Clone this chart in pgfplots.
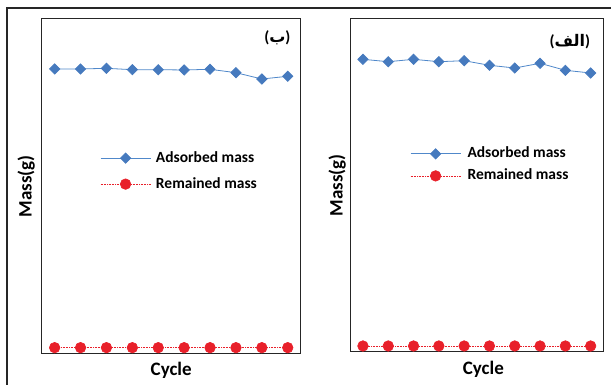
\documentclass[border=0pt]{standalone}
\usepackage{pgfplots}
\pgfplotsset{compat=1.18}
\usepackage{fontspec}
\setmainfont{Carlito}
\newfontfamily\arabicfont[Script=Arabic]{DejaVu Sans}
\TeXXeTstate=1
\definecolor{bl}{RGB}{70,122,190}
\definecolor{bll}{RGB}{80,136,202}
\definecolor{rd}{RGB}{232,32,42}
\pgfplotsset{
  panel/.style={
    scale only axis, xmin=0.5, xmax=10.5, ymin=0, ymax=100,
    xtick=\empty, ytick=\empty,
    axis line style={line width=1pt, black!85},
    clip=false, anchor=south west,
    label style={font=\fontsize{19}{22}\selectfont\bfseries, inner sep=0pt},
    legend cell align=left,
    legend style={draw=none, fill=none, font=\fontsize{15.5}{18}\selectfont\bfseries,
      inner sep=0pt, anchor=west, column sep=5pt, row sep=12pt,
      nodes={inner sep=0pt, text height=11pt, text depth=3pt}},
    legend image code/.code={\draw[mark repeat=2,mark phase=2,##1] plot coordinates {(0pt,0pt) (25pt,0pt) (50pt,0pt)};},
  },
  adsorbed/.style={color=bll, line width=0.8pt, mark=square*, mark size=3.6pt,
    mark options={rotate=45, fill=bl, draw=bl, solid}},
  remained/.style={color=rd, densely dotted, line width=0.6pt, mark=*, mark size=5.3pt,
    mark options={fill=rd, draw=rd, solid}},
}
\begin{document}
\begin{tikzpicture}
\path[use as bounding box] (0pt,0pt) rectangle (611pt,-385pt);
\draw[line width=1.1pt, black!85] (7pt,-385pt) -- (7pt,-8pt) -- (611pt,-8pt);

% left panel (b)
\begin{axis}[panel, at={(41.7pt,-353.7pt)}, width=259pt, height=335pt,
  xlabel={Cycle}, ylabel={Mass(g)},
  xlabel style={at={(axis description cs:0.5,-0.025)}, anchor=north},
  ylabel style={at={(axis description cs:-0.026,0.5)}, anchor=south},
  legend style={at={(rel axis cs:0.225,0.545)}}]
\addplot[adsorbed] coordinates {(1,84.99) (2,84.99) (3,85.19) (4,84.78) (5,84.78) (6,84.69) (7,84.9) (8,83.88) (9,82.0) (10,82.81)};
\addlegendentry{Adsorbed mass}
\addplot[remained] coordinates {(1,1.8) (2,1.8) (3,1.8) (4,1.8) (5,1.8) (6,1.8) (7,1.8) (8,1.8) (9,1.8) (10,1.8)};
\addlegendentry{Remained mass}
\node[font=\fontsize{16}{18}\selectfont\bfseries] at (rel axis cs:0.91,0.942) {{(}{\arabicfont\beginR ب\endR}{)}};
\end{axis}

% right panel (alef)
\begin{axis}[panel, at={(350.3pt,-351.3pt)}, width=253pt, height=332.3pt,
  xlabel={Cycle}, ylabel={Mass(g)},
  xlabel style={at={(axis description cs:0.526,-0.030)}, anchor=north},
  ylabel style={at={(axis description cs:-0.017,0.5)}, anchor=south},
  legend style={at={(rel axis cs:0.236,0.561)}, column sep=6.5pt, row sep=8pt}]
\addplot[adsorbed] coordinates {(1,87.87) (2,87.15) (3,87.87) (4,87.15) (5,87.45) (6,86.07) (7,85.25) (8,86.67) (9,84.56) (10,83.75)};
\addlegendentry{Adsorbed mass}
\addplot[remained] coordinates {(1,1.6) (2,1.6) (3,1.6) (4,1.6) (5,1.6) (6,1.6) (7,1.6) (8,1.6) (9,1.6) (10,1.6)};
\addlegendentry{Remained mass}
\node[font=\fontsize{16}{18}\selectfont\bfseries] at (rel axis cs:0.868,0.932) {{(}{\arabicfont\beginR الف\endR}{)}};
\end{axis}
\end{tikzpicture}
\end{document}
